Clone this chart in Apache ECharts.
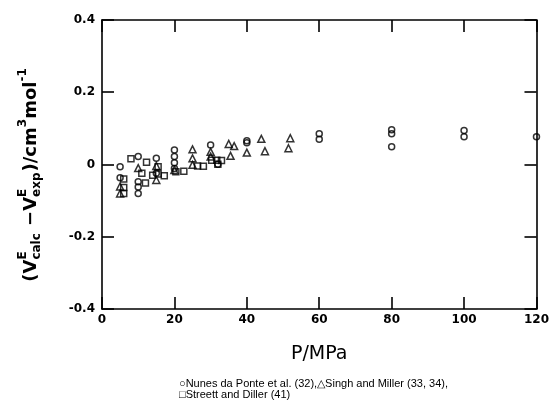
<!DOCTYPE html>
<html>
<head>
<meta charset="utf-8">
<script src="https://cdn.jsdelivr.net/npm/echarts@6/dist/echarts.min.js"></script>
<style>
html,body{margin:0;padding:0;background:#fff;}
#chart{width:552px;height:413px;}
</style>
</head>
<body>
<div id="chart"></div>
<script>
// Nunes da Ponte et al. (circles)
const nunesP = [5, 5, 10, 10, 10, 10, 15, 15, 20, 20, 20, 20, 30, 32, 40, 40, 60, 60, 80, 80, 80, 100, 100, 120];
const nunesV = [-0.006, -0.037, 0.022, -0.048, -0.062, -0.08, 0.017, -0.024, 0.04, 0.022, 0.005, -0.011, 0.054, 0.001, 0.066, 0.06, 0.085, 0.07, 0.096, 0.085, 0.049, 0.094, 0.077, 0.077];
// Singh and Miller (triangles)
const singhP = [5, 5, 10, 15, 15, 20, 25, 25, 25, 30, 30, 35, 36.5, 35.5, 40, 44, 45, 52, 51.5];
const singhV = [-0.061, -0.08, -0.01, -0.004, -0.043, -0.015, 0.042, 0.017, -0.001, 0.035, 0.022, 0.057, 0.051, 0.024, 0.033, 0.071, 0.037, 0.073, 0.045];
// Streett and Diller (squares)
const streettP = [6, 6, 6, 8, 11, 12.3, 12, 14, 15.5, 15.5, 17.2, 20.4, 22.6, 26.4, 28, 30.3, 31.7, 33, 32];
const streettV = [-0.04, -0.064, -0.08, 0.016, -0.024, 0.006, -0.051, -0.03, -0.006, -0.026, -0.031, -0.02, -0.019, -0.004, -0.005, 0.012, 0.012, 0.011, 0.001];

const xTicks = [0, 20, 40, 60, 80, 100, 120];
const yTicks = ['-0.4', '-0.2', '0', '0.2', '0.4'];

const captionLine1 = '\u25CBNunes da Ponte et al. (32),\u25B3Singh and Miller (33, 34),';
const captionLine2 = '\u25A1Streett and Diller (41)';

function pairs(xs, ys){ return xs.map((x,i)=>[x, ys[i]]); }

const chart = echarts.init(document.getElementById('chart'), null, {renderer:'canvas'});

const lineStyle = {color:'#000', width:1.6};
const labelFont = {color:'#000', fontFamily:'DejaVu Sans', fontWeight:'bold', fontSize:12};

// y-axis title built from text pieces (stacked super/subscripts)
const ctx = document.createElement('canvas').getContext('2d');
const FAM = '"DejaVu Sans"';
function tw(t, size){ ctx.font = 'bold ' + size + 'px ' + FAM; return ctx.measureText(t).width; }
const big = 18, small = 12;
const parts = [
  {t:'(V'},
  {sup:'E', sub:'calc'},
  {t:' \u2212V'},
  {sup:'E', sub:'exp'},
  {t:')/cm'},
  {t:'3', s:small, dy:-8},
  {t:'mol'},
  {t:'-1', s:small, dy:-8}
];
let total = 0;
parts.forEach(p=>{
  if (p.sup) p.w = Math.max(tw(p.sup, small), tw(p.sub, small)) + 1;
  else p.w = tw(p.t, p.s || big);
  total += p.w;
});
let cx = -total/2;
const titleChildren = [];
parts.forEach(p=>{
  if (p.sup) {
    titleChildren.push({type:'text', x:cx, y:-8, style:{text:p.sup, font:'bold '+small+'px '+FAM, fill:'#000', verticalAlign:'middle', align:'left'}});
    titleChildren.push({type:'text', x:cx, y:6, style:{text:p.sub, font:'bold '+small+'px '+FAM, fill:'#000', verticalAlign:'middle', align:'left'}});
  } else {
    const s = p.s || big;
    titleChildren.push({type:'text', x:cx, y:(p.dy||0), style:{text:p.t, font:'bold '+s+'px '+FAM, fill:'#000', verticalAlign:'middle', align:'left'}});
  }
  cx += p.w;
});

const option = {
  animation:false,
  backgroundColor:'#fff',
  grid:{left:102, right:15, top:20, bottom:104},
  xAxis:[{
    type:'value', min:xTicks[0], max:xTicks[xTicks.length-1], interval:20, position:'bottom',
    axisLine:{show:true, onZero:false, lineStyle:lineStyle},
    axisTick:{show:true, inside:true, length:12, lineStyle:lineStyle},
    axisLabel:Object.assign({margin:5}, labelFont),
    splitLine:{show:false},
    name:'P/MPa', nameLocation:'middle', nameGap:36,
    nameTextStyle:{color:'#000', fontFamily:'DejaVu Sans', fontSize:19}
  },{
    type:'value', min:xTicks[0], max:xTicks[xTicks.length-1], interval:20, position:'top',
    axisLine:{show:true, onZero:false, lineStyle:lineStyle},
    axisTick:{show:true, inside:true, length:12, lineStyle:lineStyle},
    axisLabel:{show:false}, splitLine:{show:false}
  }],
  yAxis:[{
    type:'value', min:Number(yTicks[0]), max:Number(yTicks[yTicks.length-1]), interval:0.2, position:'left',
    axisLine:{show:true, onZero:false, lineStyle:lineStyle},
    axisTick:{show:true, inside:true, length:12, lineStyle:lineStyle},
    axisLabel:Object.assign({margin:7, formatter:function(v){
      const r = Math.round(v*10)/10; return r === 0 ? '0' : r.toFixed(1);
    }}, labelFont),
    splitLine:{show:false}
  },{
    type:'value', min:Number(yTicks[0]), max:Number(yTicks[yTicks.length-1]), interval:0.2, position:'right',
    axisLine:{show:true, onZero:false, lineStyle:lineStyle},
    axisTick:{show:true, inside:true, length:12, lineStyle:lineStyle},
    axisLabel:{show:false}, splitLine:{show:false}
  }],
  series:[
    {name:'Nunes da Ponte et al. (32)', type:'scatter', symbol:'circle', symbolSize:6,
     itemStyle:{color:'rgba(255,255,255,0)', borderColor:'#000', borderWidth:1.5},
     data:pairs(nunesP, nunesV)},
    {name:'Singh and Miller (33, 34)', type:'scatter', symbol:'triangle', symbolSize:7,
     itemStyle:{color:'rgba(255,255,255,0)', borderColor:'#000', borderWidth:1.5},
     data:pairs(singhP, singhV)},
    {name:'Streett and Diller (41)', type:'scatter', symbol:'rect', symbolSize:6,
     itemStyle:{color:'rgba(255,255,255,0)', borderColor:'#000', borderWidth:1.5},
     data:pairs(streettP, streettV)}
  ],
  graphic:[
    {type:'group', x:31, y:175, rotation:Math.PI/2, children:titleChildren},
    {type:'text', left:179, top:378, style:{text:captionLine1, font:'11px "Liberation Sans"', fill:'#000'}},
    {type:'text', left:179, top:389, style:{text:captionLine2, font:'11px "Liberation Sans"', fill:'#000'}}
  ]
};
chart.setOption(option);
</script>
</body>
</html>
